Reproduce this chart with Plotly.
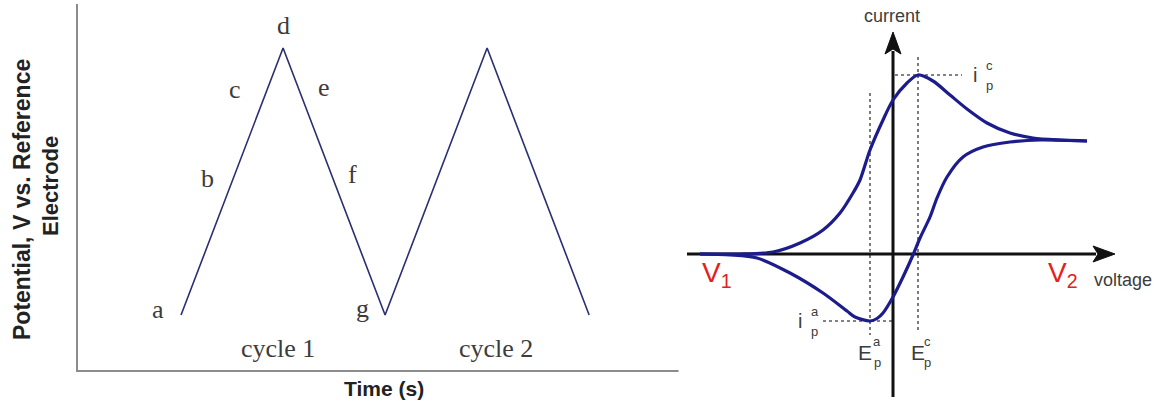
import plotly.graph_objects as go

W, H = 1170, 406

# ---- Left panel: triangular potential sweep (two cycles) ----
sweep_time = [0, 1, 2, 3, 4]
sweep_potential = [0, 1, 0, 1, 0]
sweep_letters = ["a", "b", "c", "d", "e", "f", "g"]
cycle_names = ["cycle 1", "cycle 2"]

# ---- Right panel: cyclic voltammogram ----
forward_voltage = [-1.93, -1.53, -1.20, -0.93, -0.70, -0.53, -0.40, -0.33, -0.23, -0.10,
                   0.00, 0.14, 0.25, 0.40, 0.57, 0.74, 0.94, 1.17, 1.40, 1.67, 1.94]
forward_current = [0.00, 0.00, 0.02, 0.11, 0.24, 0.41, 0.61, 0.74, 1.04, 1.34,
                   1.54, 1.71, 1.79, 1.73, 1.59, 1.45, 1.31, 1.21, 1.16, 1.14, 1.13]
reverse_voltage = [1.94, 1.47, 1.17, 0.90, 0.70, 0.54, 0.44, 0.37, 0.27, 0.20, 0.10,
                   0.00, -0.10, -0.16, -0.23, -0.38, -0.46, -0.70, -1.03, -1.36, -1.63, -1.93]
reverse_current = [1.13, 1.14, 1.12, 1.07, 0.97, 0.77, 0.56, 0.37, 0.16, -0.01, -0.23,
                   -0.43, -0.59, -0.645, -0.67, -0.63, -0.57, -0.39, -0.19, -0.04, -0.01, 0.00]
peak_voltage_cathodic = 0.25
peak_current_cathodic = 1.79
peak_voltage_anodic = -0.23
peak_current_anodic = -0.67

TEXT_GREY = "#3c3c3c"
SERIF = "Liberation Serif, Times New Roman, serif"
SANS = "Liberation Sans, Arial, sans-serif"
CV_BLUE = "#1c1c8c"

fig = go.Figure()

fig.add_trace(go.Scatter(
    x=sweep_time, y=sweep_potential, mode="lines",
    line=dict(color="#2a2f72", width=1.6),
    xaxis="x", yaxis="y", hoverinfo="skip", showlegend=False))

fig.add_trace(go.Scatter(
    x=forward_voltage, y=forward_current, mode="lines",
    line=dict(color=CV_BLUE, width=3.2, shape="spline", smoothing=0.8),
    xaxis="x2", yaxis="y2", hoverinfo="skip", showlegend=False))
fig.add_trace(go.Scatter(
    x=reverse_voltage, y=reverse_current, mode="lines",
    line=dict(color=CV_BLUE, width=3.2, shape="spline", smoothing=0.8),
    xaxis="x2", yaxis="y2", hoverinfo="skip", showlegend=False))

annotations = []

def note(x, y, text, size, family, color, xref, yref, **kw):
    annotations.append(dict(x=x, y=y, xref=xref, yref=yref, text=text, showarrow=False,
                            xanchor="center", yanchor="middle",
                            font=dict(family=family, size=size, color=color), **kw))

# letters along the first sweep cycle
letter_pos = [(-0.225, 0.02), (0.255, 0.513), (0.53, 0.846), (1.0, 1.086),
              (1.40, 0.854), (1.676, 0.528), (1.775, 0.026)]
for s, (tx, vy) in zip(sweep_letters, letter_pos):
    note(tx, vy, s, 26, SERIF, TEXT_GREY, "x", "y")
for name, tx in zip(cycle_names, [0.95, 3.088]):
    note(tx, -0.124, name, 26, SERIF, TEXT_GREY, "x", "y")

# left panel axis titles
note(22 / W, 1 - 200 / H, "<b>Potential, V vs. Reference</b>", 23, SANS, "#222222",
     "paper", "paper", textangle=-90)
note(50 / W, 1 - 186 / H, "<b>Electrode</b>", 22, SANS, "#222222",
     "paper", "paper", textangle=-90)
note(384 / W, 1 - 388 / H, "<b>Time (s)</b>", 21, SANS, "#222222", "paper", "paper")

# right panel labels
def rlabel(x, y, text, size, color=TEXT_GREY):
    note(x, y, text, size, SANS, color, "x2", "y2")

rlabel(-0.01, 2.38, "current", 18)
rlabel(2.30, -0.26, "voltage", 18)
rlabel(-1.76, -0.20, "V<sub>1</sub>", 28, "#e3201c")
rlabel(1.70, -0.20, "V<sub>2</sub>", 28, "#e3201c")

rlabel(0.82, peak_current_cathodic, "i", 20)
rlabel(0.97, peak_current_cathodic + 0.10, "c", 13)
rlabel(0.97, peak_current_cathodic - 0.10, "p", 13)

rlabel(-0.93, peak_current_anodic, "i", 20)
rlabel(-0.78, peak_current_anodic + 0.10, "a", 13)
rlabel(-0.78, peak_current_anodic - 0.10, "p", 13)

rlabel(peak_voltage_anodic - 0.045, -0.98, "E", 21)
rlabel(peak_voltage_anodic + 0.075, -0.875, "a", 13)
rlabel(peak_voltage_anodic + 0.075, -1.085, "p", 13)

rlabel(peak_voltage_cathodic + 0.005, -0.98, "E", 21)
rlabel(peak_voltage_cathodic + 0.095, -0.875, "c", 13)
rlabel(peak_voltage_cathodic + 0.095, -1.085, "p", 13)

shapes = []
DOT = dict(color="#5a5a5a", width=1.6, dash="dot")

def rline(x0, y0, x1, y1, line):
    shapes.append(dict(type="line", xref="x2", yref="y2", x0=x0, y0=y0, x1=x1, y1=y1,
                       line=line, layer="below"))

# guide lines to the peaks
rline(peak_voltage_anodic, 1.61, peak_voltage_anodic, -0.81, DOT)
rline(peak_voltage_cathodic, 1.97, peak_voltage_cathodic, -0.79, DOT)
rline(0.02, peak_current_cathodic, 0.69, peak_current_cathodic, DOT)
rline(-0.70, peak_current_anodic, 0.0, peak_current_anodic, DOT)

# drawn coordinate axes with arrow heads
AX = dict(color="#111111", width=3)
v_tip, h_tip = 2.22, 2.22
head_len, head_half = 0.22, 0.08
rline(-2.06, 0, h_tip - head_len + 0.03, 0, AX)
rline(0, -1.43, 0, v_tip - head_len + 0.03, AX)
shapes.append(dict(type="path", xref="x2", yref="y2", layer="above",
                   path=(f"M {h_tip},0 L {h_tip - head_len},{head_half} "
                         f"L {h_tip - head_len + 0.05},0 L {h_tip - head_len},{-head_half} Z"),
                   fillcolor="#111111", line=dict(color="#111111", width=1)))
shapes.append(dict(type="path", xref="x2", yref="y2", layer="above",
                   path=(f"M 0,{v_tip} L {head_half},{v_tip - head_len} "
                         f"L 0,{v_tip - head_len + 0.05} L {-head_half},{v_tip - head_len} Z"),
                   fillcolor="#111111", line=dict(color="#111111", width=1)))

fig.update_layout(
    width=W, height=H,
    margin=dict(l=0, r=0, t=0, b=0),
    paper_bgcolor="white", plot_bgcolor="white",
    xaxis=dict(domain=[78 / W, 683 / W], range=[-1.01, 4.92], showline=True,
               linecolor="#8c8c8c", linewidth=2, showticklabels=False, ticks="",
               showgrid=False, zeroline=False, fixedrange=True),
    yaxis=dict(domain=[1 - 370 / H, 1 - 4 / H], range=[-0.206, 1.165], showline=True,
               linecolor="#8c8c8c", linewidth=2, showticklabels=False, ticks="",
               showgrid=False, zeroline=False, fixedrange=True),
    xaxis2=dict(domain=[0.58, 1.0], range=[-2.144, 2.77], visible=False, fixedrange=True),
    yaxis2=dict(domain=[0, 1], range=[-1.52, 2.54], visible=False, fixedrange=True),
    annotations=annotations,
    shapes=shapes,
)

fig.write_html("out.html")
